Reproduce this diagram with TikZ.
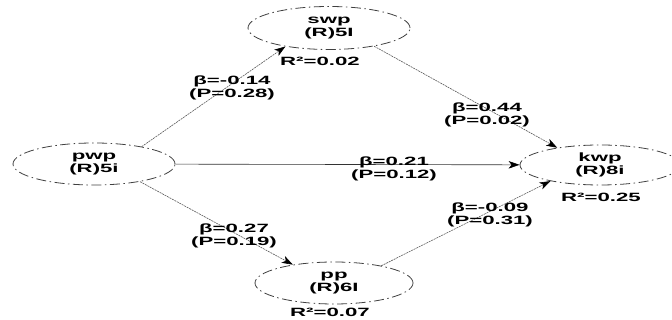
\documentclass[tikz,border=0pt]{standalone}
\usepackage{fontspec}
\setmainfont{Liberation Sans}
\usetikzlibrary{shapes.geometric,arrows.meta}
\newcommand{\sx}[1]{\scalebox{1.85}[1]{#1}}
\begin{document}
\begin{tikzpicture}[x=1pt,y=1pt,
  lv/.style={ellipse, draw=black!75, line width=0.8pt,
    dash pattern=on 10pt off 3.5pt on 1.5pt off 3.5pt, inner sep=0pt,
    font=\bfseries\fontsize{12}{13}\selectfont, align=center},
  lbl/.style={font=\bfseries\fontsize{12}{13}\selectfont, align=center, inner sep=0pt},
  conn/.style={draw=black!65, line width=0.6pt, dash pattern=on 2pt off 0.8pt,
    -{Stealth[length=11pt,width=7.5pt,inset=3pt,color=black]}},
]
\useasboundingbox (0,0) rectangle (672,320);

\node[lv, minimum width=162pt, minimum height=43pt] (swp) at (329,292) {\sx{swp}\\\sx{(R)5I}};
\node[lv, minimum width=162pt, minimum height=42pt] (pwp) at (94,156) {\sx{pwp}\\\sx{(R)5i}};
\node[lv, minimum width=160pt, minimum height=40pt] (kwp) at (600,155) {\sx{kwp}\\\sx{(R)8i}};
\node[lv, minimum width=158pt, minimum height=42pt] (pp) at (334,37) {\sx{pp}\\\sx{(R)6I}};

\node[lbl] (r2swp) at (320,259) {\sx{R²=0.02}};
\node[lbl] (r2kwp) at (601,123) {\sx{R²=0.25}};
\node[lbl] (r2pp) at (330,8) {\sx{R²=0.07}};

\draw[conn] (pwp.20) -- (swp.203);
\draw[conn, solid, draw=black!80] (pwp) -- (kwp);
\draw[conn] (pwp.-21) -- (pp.156);
\draw[conn] (swp.-22) -- (kwp.158);
\draw[conn] (pp.20) -- (kwp.198);

\node[lbl] (l1) at (232,232) {\sx{β=-0.14}\\\sx{(P=0.28)}};
\node[lbl] (l2) at (487,205.5) {\sx{β=0.44}\\\sx{(P=0.02)}};
\node[lbl] (l3) at (394,151) {\sx{β=0.21}\\\sx{(P=0.12)}};
\node[lbl] (l4) at (234,84) {\sx{β=0.27}\\\sx{(P=0.19)}};
\node[lbl] (l5) at (490,105) {\sx{β=-0.09}\\\sx{(P=0.31)}};
\end{tikzpicture}
\end{document}
